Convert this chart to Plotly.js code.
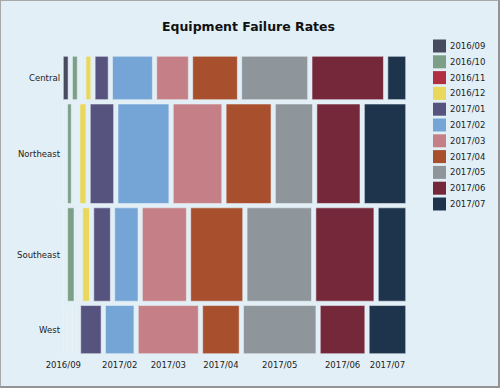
<!DOCTYPE html>
<html>
<head>
<meta charset="utf-8">
<script src="https://cdn.plot.ly/plotly-3.0.1.min.js"></script>
<style>
  html, body { margin: 0; padding: 0; background: #e2eff6; }
  #wrap { position: relative; width: 500px; height: 388px; }
  #chart { width: 500px; height: 388px; }
  #frame { position: absolute; left: 0; top: 0; width: 500px; height: 388px; box-sizing: border-box;
           border-top: 1px solid #a8a8a8; border-left: 1px solid #a8a8a8;
           border-right: 2px solid #949494; border-bottom: 2px solid #949494; pointer-events: none; }
</style>
</head>
<body>
<div id="wrap"><div id="chart"></div><div id="frame"></div></div>
<script>
// ---- data ----
const months = ['2016/09','2016/10','2016/11','2016/12','2017/01','2017/02','2017/03','2017/04','2017/05','2017/06','2017/07'];
const regions = ['Central','Northeast','Southeast','West'];
const central   = [7, 7, 0, 7, 19, 58, 46, 65, 96, 104, 26];
const northeast = [0, 12, 0, 20, 78, 170, 162, 150, 124, 144, 138];
const southeast = [0, 20, 0, 21, 52, 73, 138, 163, 202, 182, 86];
const west      = [0, 0, 0, 0, 33, 46, 97, 59, 117, 72, 59];
const colors = ['#464b60','#7d9f88','#b02f40','#e9d85c','#57537f','#74a5d6','#c58087','#a84f2e','#8e959b','#75283a','#1e344c'];

const rows = [central, northeast, southeast, west];

// ---- layout constants (axis units = pixels) ----
const ML = 63, MT = 56, PW = 343, PH = 298;
const XSPAN = PW, YSPAN = PH;
const GAP = 4.35, PAD = 0.3;

const rowTotals = rows.map(r => r.reduce((a, b) => a + b, 0));
const grand = rowTotals.reduce((a, b) => a + b, 0);
const usableY = YSPAN - 2 * PAD - (rows.length - 1) * GAP;
const usableX = XSPAN - 2 * PAD - (months.length - 1) * GAP;

const rowH = [], rowC = [];
let yc = PAD;
rows.forEach((r, i) => {
  const h = rowTotals[i] / grand * usableY;
  rowH.push(h); rowC.push(yc + h / 2);
  yc += h + GAP;
});

const widths = rows.map(() => []), bases = rows.map(() => []);
rows.forEach((r, i) => {
  let xc = PAD;
  r.forEach((v, j) => {
    const w = v / rowTotals[i] * usableX;
    widths[i].push(w); bases[i].push(xc);
    xc += w + GAP;
  });
});

const traces = months.map((m, j) => ({
  type: 'bar', orientation: 'h', name: m,
  y: rowC, x: rows.map((r, i) => widths[i][j]), base: rows.map((r, i) => bases[i][j]),
  width: rowH,
  marker: { color: colors[j], line: { color: 'rgba(235,242,248,0.55)', width: 1 } },
  hoverinfo: 'skip', showlegend: false
}));

// x tick labels at centres of the bottom row, skipping overlapping ones
const last = rows.length - 1;
const tv = [], tt = [];
let prev = -1e9;
months.forEach((m, j) => {
  const c = bases[last][j] + widths[last][j] / 2;
  if (c - prev >= 40) { tv.push(c); tt.push(m); prev = c; }
});

// custom legend
const shapes = [], annotations = [];
const px2x = px => (px - ML) / PW, py2y = py => 1 - (py - MT) / PH;
months.forEach((m, j) => {
  const cy = 46 + j * 15.8;
  shapes.push({ type: 'rect', xref: 'paper', yref: 'paper',
    x0: px2x(433), x1: px2x(446), y0: py2y(cy - 6.5), y1: py2y(cy + 6.5),
    fillcolor: colors[j], line: { width: 0 } });
  annotations.push({ xref: 'paper', yref: 'paper', x: px2x(448), y: py2y(cy),
    xanchor: 'left', yanchor: 'middle', text: m, showarrow: false,
    font: { family: 'DejaVu Sans', size: 8.5, color: '#222' } });
});

const layout = {
  width: 500, height: 388,
  margin: { l: ML, r: 500 - ML - PW, t: MT, b: 388 - MT - PH, pad: 0 },
  paper_bgcolor: '#e2eff6', plot_bgcolor: '#e2eff6',
  barmode: 'overlay',
  title: { text: 'Equipment Failure Rates', font: { family: 'DejaVu Sans', size: 12.5, color: '#111', weight: 'bold' },
           x: 0.497, xref: 'container', xanchor: 'center', y: 1 - 27 / 388, yref: 'container', yanchor: 'middle' },
  xaxis: { range: [0, XSPAN], showgrid: false, zeroline: false, showline: false, ticks: '',
           tickmode: 'array', tickvals: tv, ticktext: tt, fixedrange: true, ticklabelstandoff: 4,
           tickfont: { family: 'DejaVu Sans', size: 8.5, color: '#222' } },
  yaxis: { range: [YSPAN, 0], showgrid: false, zeroline: false, showline: false, ticks: '',
           tickmode: 'array', tickvals: rowC, ticktext: regions, fixedrange: true, ticklabelstandoff: 2,
           tickfont: { family: 'DejaVu Sans', size: 8.5, color: '#222' } },
  shapes: shapes, annotations: annotations, showlegend: false
};

Plotly.newPlot('chart', traces, layout, { displayModeBar: false, staticPlot: true });
</script>
</body>
</html>
